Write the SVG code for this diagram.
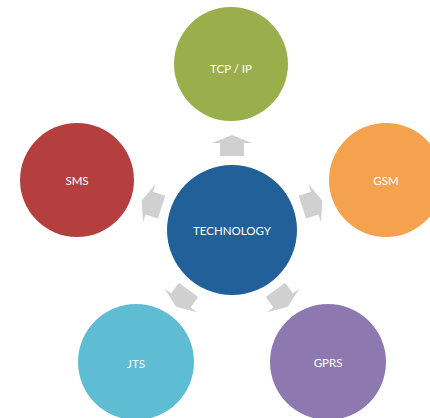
<svg xmlns="http://www.w3.org/2000/svg" width="430" height="418" viewBox="0 0 430 418">
<style>
.lbl{font-family:Lato,"Open Sans","Liberation Sans",sans-serif;font-size:11.5px;fill:#ffffff;text-anchor:middle;dominant-baseline:central}
.arr{fill:#d0d0d0}
</style>
<defs>
<polygon id="ah" points="232,135 252,143 244,143 244,156 220,156 220,143 212,143"/>
</defs>
<rect width="430" height="418" fill="#ffffff"/>
<g id="connectors">
<use href="#ah" class="arr"/>
<use href="#ah" class="arr" transform="rotate(72 232 230)"/>
<use href="#ah" class="arr" transform="rotate(144 232 230)"/>
<use href="#ah" class="arr" transform="rotate(216 232 230)"/>
<use href="#ah" class="arr" transform="rotate(288 232 230)"/>
</g>
<g id="tcpip"><circle cx="231" cy="64" r="57" fill="#9bae4c"/><text class="lbl" x="231" y="68">TCP / IP</text></g>
<g id="gsm"><circle cx="386" cy="180" r="57" fill="#f4a24e"/><text class="lbl" x="386" y="180">GSM</text></g>
<g id="sms"><circle cx="77" cy="180" r="57" fill="#b53f3f"/><text class="lbl" x="77" y="180">SMS</text></g>
<g id="jts"><circle cx="136" cy="362" r="58" fill="#5ebdd3"/><text class="lbl" x="136" y="363">JTS</text></g>
<g id="gprs"><circle cx="328" cy="362" r="58" fill="#8e78b0"/><text class="lbl" x="328" y="362">GPRS</text></g>
<g id="technology"><circle cx="232" cy="230" r="65" fill="#22609a"/><text class="lbl" x="232" y="230">TECHNOLOGY</text></g>
</svg>
